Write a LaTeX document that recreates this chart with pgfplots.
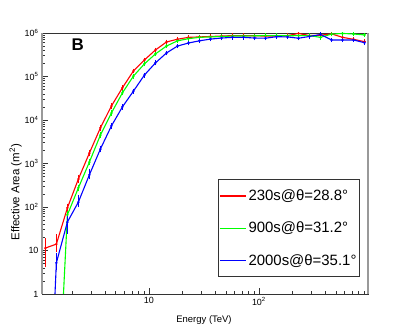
\documentclass[border=0pt]{standalone}
\usepackage{fontspec}
\setmainfont{Liberation Sans}
\usepackage{pgfplots}
\usepackage{pgfplotstable}
\pgfplotsset{compat=1.18}

% x = energy (TeV), y = effective area (m^2), ep/em = error plus/minus
\pgfplotstableread{
x y ep em
1.148 11.4 5.6 6.8
1.445 14 7 4
1.820 95 12 10
2.291 440 40 35
2.884 1740 120 110
3.631 6600 300 300
4.571 21000 700 700
5.754 55000 1500 1500
7.244 134000 3000 3000
9.120 240000 5000 5000
11.48 407000 8000 8000
14.45 620000 10000 10000
18.20 720000 10000 10000
22.91 794000 10000 10000
28.84 813000 10000 10000
36.31 832000 10000 10000
45.71 851000 10000 10000
57.54 871000 10000 10000
72.44 871000 10000 10000
91.20 861000 10000 10000
114.8 851000 10000 10000
144.5 851000 10000 10000
182.0 871000 10000 10000
229.1 977000 10000 10000
288.4 871000 10000 10000
363.1 891000 10000 10000
457.1 955000 10000 10000
575.4 794000 10000 10000
724.4 716000 10000 10000
912.0 631000 10000 10000
}\redtab

\pgfplotstableread{
x y ep em
1.445 0.0005 0 0
1.820 66 8 8
2.291 275 20 20
2.884 1080 60 60
3.631 4500 200 200
4.571 14500 500 500
5.754 42000 1200 1200
7.244 102000 2500 2500
9.120 195000 4000 4000
11.48 330000 6000 6000
14.45 500000 8000 8000
18.20 660000 10000 10000
22.91 741000 10000 10000
28.84 794000 10000 10000
36.31 813000 10000 10000
45.71 832000 10000 10000
57.54 851000 10000 10000
72.44 851000 10000 10000
91.20 861000 10000 10000
114.8 871000 10000 10000
144.5 871000 10000 10000
182.0 861000 10000 10000
229.1 871000 10000 10000
288.4 871000 10000 10000
363.1 794000 10000 10000
457.1 944000 10000 10000
575.4 977000 10000 10000
724.4 948000 10000 10000
912.0 902000 10000 10000
}\greentab

\pgfplotstableread{
x y ep em
1.148 0.00001 0 0
1.445 5.2 2.5 1.3
1.820 45 12 18
2.291 130 40 20
2.884 550 110 70
3.631 2150 150 150
4.571 7300 400 400
5.754 20000 900 900
7.244 46000 1500 1500
9.120 108000 3000 3000
11.48 205000 5000 5000
14.45 347000 7000 7000
18.20 500000 9000 9000
22.91 589000 10000 10000
28.84 661000 10000 10000
36.31 724000 10000 10000
45.71 767000 10000 10000
57.54 794000 10000 10000
72.44 794000 10000 10000
91.20 767000 10000 10000
114.8 759000 10000 10000
144.5 822000 10000 10000
182.0 813000 10000 10000
229.1 759000 10000 10000
288.4 832000 10000 10000
363.1 923000 10000 10000
457.1 692000 10000 10000
575.4 692000 10000 10000
724.4 692000 10000 10000
912.0 598000 10000 10000
}\bluetab

\begin{document}
\begin{tikzpicture}
\begin{axis}[
  scale only axis,
  width=326bp, height=261bp,
  at={(42bp,33bp)}, anchor=south west,
  xmode=log, ymode=log,
  xmin=1.07, xmax=980, ymin=1, ymax=1e6,
  xtick={10,100}, xticklabels={10,10\textsuperscript{2}},
  minor xtick={2,3,4,5,6,7,8,9,20,30,40,50,60,70,80,90,200,300,400,500,600,700,800,900},
  ytick={1,10,100,1000,10000,100000,1000000},
  yticklabels={1,10,10\textsuperscript{2},10\textsuperscript{3},10\textsuperscript{4},10\textsuperscript{5},10\textsuperscript{6}},
  minor ytick={2,3,4,5,6,7,8,9,20,30,40,50,60,70,80,90,200,300,400,500,600,700,800,900,
    2000,3000,4000,5000,6000,7000,8000,9000,
    2e4,3e4,4e4,5e4,6e4,7e4,8e4,9e4,2e5,3e5,4e5,5e5,6e5,7e5,8e5,9e5},
  tick pos=left, tick align=inside,
  major tick length=6bp, minor tick length=3bp,
  tick style={black!80, line width=0.5bp},
  axis line style={black!80, line width=0.7bp},
  ticklabel style={font=\fontsize{9}{10}\selectfont},
  xlabel={Energy (TeV)},
  ylabel={Effective Area (m\textsuperscript{2})},
  xlabel style={font=\fontsize{9.5}{11}\selectfont, at={(axis description cs:0.497,-0.1)}, anchor=center},
  ylabel style={font=\fontsize{11.5}{13}\selectfont, at={(axis description cs:-0.081,0.39)}, anchor=center},
  legend style={at={(rel axis cs:0.975,0.065)}, anchor=south east,
    draw=black!80, line width=0.7bp,
    font=\fontsize{15}{17}\selectfont,
    inner xsep=1bp, inner ysep=8bp, row sep=16bp},
  legend cell align=left,
  legend image code/.code={\draw[#1, line width=1.3bp] (0bp,0bp) -- (26bp,0bp);},
  every axis plot/.append style={line width=1.1bp, mark=*, mark size=0.6bp},
  after end axis/.code={
    \draw[gray!80, line width=1.4bp] (rel axis cs:0,0) -- (rel axis cs:0,1);
    \draw[gray!80, line width=1.4bp] (rel axis cs:1,0) -- (rel axis cs:1,1);
  },
  clip=true,
]
\addplot[red, error bars/y dir=both, error bars/y explicit,
  error bars/error mark options={line width=0.8bp, mark size=2bp}]
  table[x=x, y=y, y error plus=ep, y error minus=em]{\redtab};
\addlegendentry{230s@θ=28.8°}
\addplot[green, error bars/y dir=both, error bars/y explicit,
  error bars/error mark options={line width=0.8bp, mark size=2bp}]
  table[x=x, y=y, y error plus=ep, y error minus=em]{\greentab};
\addlegendentry{900s@θ=31.2°}
\addplot[blue, error bars/y dir=both, error bars/y explicit,
  error bars/error mark options={line width=0.8bp, mark size=2bp}]
  table[x=x, y=y, y error plus=ep, y error minus=em]{\bluetab};
\addlegendentry{2000s@θ=35.1°}
\node[font=\fontsize{17}{17}\selectfont\bfseries] at (rel axis cs:0.11,0.955) {B};
\end{axis}
\pgfresetboundingbox
\path (0,0) rectangle (409bp,327bp);
\end{tikzpicture}
\end{document}
